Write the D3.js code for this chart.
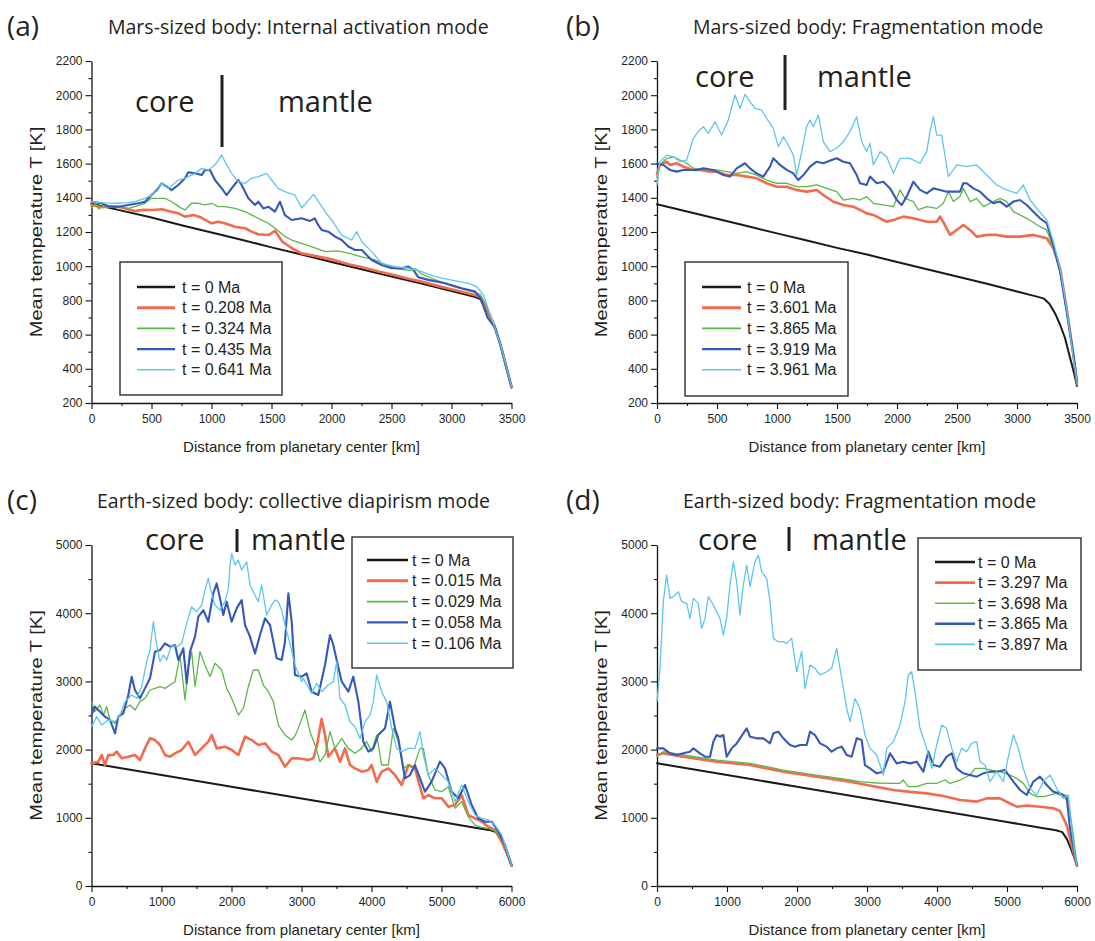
<!DOCTYPE html>
<html><head><meta charset="utf-8">
<script src="https://cdn.jsdelivr.net/npm/d3@7"></script>
<style>body{margin:0;background:#fff;} svg{display:block;}</style>
</head><body>
<svg id="chart" width="1095" height="941"></svg>
<script>
// ---------------- DATA ----------------
// Panel (a) Mars-sized body: Internal activation mode  [distance km, T K]
const A_labels = ["t = 0 Ma", "t = 0.208 Ma", "t = 0.324 Ma", "t = 0.435 Ma", "t = 0.641 Ma"];
const A_t0 = [[0,1365],[250,1325],[500,1285],[750,1240],[1000,1197],[1250,1155],[1500,1110],[1750,1068],[2000,1025],[2250,982],[2500,940],[2750,898],[3000,855],[3200,820],[3240,808],[3290,745],[3330,690],[3360,650],[3400,560],[3440,450],[3470,370],[3500,290]];
const A_t1 = [[0,1360],[84,1345],[150,1350],[223,1348],[300,1335],[362,1322],[430,1330],[501,1329],[590,1333],[640,1323],[720,1310],[779,1290],[850,1300],[918,1283],[1000,1251],[1057,1260],[1110,1251],[1196,1231],[1280,1222],[1334,1202],[1390,1187],[1473,1182],[1530,1206],[1590,1144],[1670,1105],[1751,1075],[1850,1062],[2000,1040],[2150,1010],[2250,995],[2400,968],[2500,952],[2650,925],[2750,910],[2900,882],[3000,865],[3100,848],[3200,830],[3240,818],[3290,755],[3340,680],[3400,560],[3450,430],[3500,295]];
const A_t2 = [[0,1340],[30,1370],[60,1335],[100,1360],[130,1345],[223,1348],[306,1338],[362,1348],[445,1368],[501,1397],[556,1397],[612,1397],[668,1377],[751,1338],[779,1329],[834,1368],[890,1368],[946,1358],[1001,1368],[1057,1348],[1112,1348],[1196,1338],[1279,1319],[1334,1300],[1390,1280],[1473,1251],[1529,1222],[1612,1173],[1668,1153],[1751,1134],[1850,1110],[1950,1085],[2050,1090],[2150,1075],[2250,1055],[2350,1040],[2450,1010],[2550,985],[2650,975],[2700,985],[2750,955],[2850,925],[3000,885],[3100,865],[3200,845],[3240,835],[3290,770],[3340,680],[3400,545],[3450,420],[3500,300]];
const A_t3 = [[0,1377],[84,1368],[150,1348],[223,1348],[306,1358],[390,1368],[445,1377],[501,1416],[543,1445],[584,1485],[626,1465],[668,1445],[723,1475],[779,1514],[807,1549],[862,1543],[918,1533],[946,1563],[987,1563],[1029,1504],[1085,1455],[1126,1416],[1168,1455],[1223,1504],[1251,1475],[1307,1397],[1362,1358],[1390,1377],[1432,1338],[1473,1348],[1529,1319],[1570,1377],[1612,1299],[1668,1270],[1751,1280],[1821,1265],[1860,1280],[1890,1240],[1918,1212],[1974,1202],[2030,1173],[2085,1153],[2140,1115],[2196,1095],[2252,1095],[2293,1065],[2335,1036],[2418,1007],[2502,988],[2585,988],[2640,998],[2680,980],[2724,935],[2807,920],[2946,900],[3085,871],[3196,852],[3240,815],[3300,700],[3363,640],[3418,520],[3500,296]];
const A_t4 = [[0,1377],[100,1370],[223,1368],[300,1372],[362,1377],[445,1397],[501,1416],[584,1485],[640,1455],[723,1504],[779,1514],[862,1543],[918,1572],[973,1563],[1029,1592],[1085,1650],[1112,1611],[1168,1543],[1223,1494],[1279,1485],[1334,1514],[1390,1524],[1459,1543],[1501,1504],[1556,1455],[1612,1436],[1695,1416],[1751,1340],[1790,1370],[1849,1420],[1890,1380],[1946,1319],[2002,1270],[2085,1182],[2168,1153],[2210,1202],[2252,1144],[2335,1085],[2418,1017],[2529,997],[2640,988],[2752,968],[2863,939],[3002,919],[3141,900],[3210,880],[3266,832],[3335,695],[3418,520],[3501,296]];

// Panel (b) Mars-sized body: Fragmentation mode
const B_labels = ["t = 0 Ma", "t = 3.601 Ma", "t = 3.865 Ma", "t = 3.919 Ma", "t = 3.961 Ma"];
const B_t0 = [[0,1362],[250,1320],[500,1278],[750,1235],[1000,1192],[1250,1150],[1500,1107],[1750,1068],[2000,1025],[2250,982],[2500,940],[2750,897],[3000,852],[3150,825],[3220,812],[3270,780],[3320,720],[3360,656],[3400,580],[3440,470],[3470,390],[3500,300]];
const B_t1 = [[0,1540],[25,1592],[81,1611],[108,1592],[164,1602],[219,1582],[303,1563],[358,1563],[442,1553],[497,1553],[581,1533],[664,1533],[747,1524],[831,1514],[914,1485],[997,1465],[1081,1465],[1164,1446],[1247,1436],[1331,1446],[1386,1416],[1470,1377],[1553,1358],[1636,1348],[1692,1329],[1747,1309],[1803,1300],[1859,1280],[1914,1260],[1970,1270],[2053,1290],[2136,1280],[2248,1260],[2331,1260],[2359,1290],[2400,1240],[2442,1183],[2498,1212],[2553,1241],[2609,1212],[2664,1173],[2748,1183],[2831,1183],[2914,1173],[3025,1173],[3136,1183],[3248,1163],[3303,1105],[3359,988],[3414,754],[3470,481],[3500,310]];
const B_t2 = [[0,1520],[25,1592],[81,1631],[136,1640],[192,1621],[247,1602],[303,1573],[386,1563],[497,1563],[581,1553],[664,1543],[747,1553],[831,1533],[914,1504],[997,1485],[1081,1485],[1164,1465],[1247,1465],[1331,1475],[1414,1455],[1497,1436],[1553,1387],[1636,1397],[1692,1387],[1747,1407],[1803,1368],[1886,1358],[1970,1348],[2025,1446],[2067,1397],[2136,1378],[2178,1329],[2248,1348],[2331,1338],[2386,1368],[2428,1436],[2470,1378],[2525,1407],[2553,1455],[2609,1378],[2664,1397],[2720,1348],[2803,1378],[2859,1397],[2914,1378],[2970,1319],[3081,1280],[3192,1231],[3248,1212],[3303,1105],[3359,968],[3414,754],[3470,481],[3500,310]];
const B_t3 = [[0,1600],[53,1592],[108,1563],[164,1553],[219,1563],[331,1563],[386,1572],[469,1563],[553,1533],[608,1524],[664,1572],[733,1602],[775,1572],[831,1543],[886,1524],[942,1582],[969,1631],[1025,1592],[1081,1563],[1136,1543],[1178,1504],[1220,1533],[1275,1582],[1331,1611],[1386,1602],[1456,1621],[1497,1631],[1553,1611],[1608,1602],[1664,1533],[1692,1485],[1747,1475],[1775,1524],[1831,1485],[1886,1494],[1942,1455],[1998,1387],[2039,1358],[2081,1407],[2136,1494],[2192,1446],[2248,1426],[2303,1455],[2359,1446],[2414,1436],[2470,1436],[2525,1436],[2553,1485],[2581,1485],[2636,1455],[2692,1436],[2748,1397],[2803,1368],[2859,1378],[2914,1348],[2970,1378],[3025,1387],[3081,1358],[3136,1319],[3192,1280],[3248,1251],[3303,1124],[3359,968],[3414,734],[3470,481],[3500,330]];
const B_t4 = [[0,1475],[25,1611],[81,1650],[136,1640],[192,1611],[247,1621],[303,1748],[344,1787],[386,1816],[428,1777],[483,1845],[539,1767],[594,1855],[650,2001],[692,1923],[733,2005],[775,1962],[817,1923],[872,1913],[914,1865],[969,1806],[1011,1699],[1053,1757],[1094,1709],[1136,1650],[1164,1533],[1206,1670],[1247,1816],[1275,1855],[1303,1816],[1345,1884],[1386,1728],[1442,1670],[1497,1690],[1553,1728],[1608,1787],[1664,1874],[1706,1728],[1747,1670],[1775,1719],[1803,1592],[1859,1670],[1914,1640],[1970,1543],[2025,1631],[2108,1631],[2192,1602],[2248,1670],[2275,1787],[2303,1874],[2331,1767],[2372,1767],[2428,1524],[2498,1592],[2581,1582],[2664,1592],[2748,1533],[2831,1475],[2914,1446],[2998,1426],[3053,1475],[3109,1387],[3164,1338],[3248,1270],[3303,1144],[3359,988],[3414,754],[3470,461],[3500,330]];

// Panel (c) Earth-sized body: collective diapirism mode
const C_labels = ["t = 0 Ma", "t = 0.015 Ma", "t = 0.029 Ma", "t = 0.058 Ma", "t = 0.106 Ma"];
const C_t0 = [[0,1800],[1000,1628],[2000,1455],[3000,1283],[4000,1110],[5000,938],[5500,852],[5700,818],[5780,790],[5850,680],[5920,520],[5970,380],[6000,300]];
const C_t1 = [[0,1798],[98,1823],[145,1921],[193,1774],[240,1921],[312,1921],[360,1970],[431,1872],[526,1896],[621,1921],[693,1847],[764,2018],[836,2165],[907,2140],[979,2067],[1050,1921],[1121,1896],[1193,1945],[1288,1994],[1383,2116],[1479,1921],[1574,2018],[1669,2116],[1717,2214],[1788,2018],[1907,2043],[2002,1994],[2098,1921],[2193,2189],[2288,2140],[2383,2067],[2479,2091],[2574,1970],[2669,1921],[2764,1749],[2860,1872],[2955,1872],[3097,1847],[3169,1872],[3217,2043],[3288,2450],[3336,2214],[3383,1896],[3478,2018],[3550,1823],[3621,2018],[3693,1774],[3764,1725],[3859,1676],[3955,1701],[4002,1774],[4074,1530],[4145,1676],[4240,1725],[4336,1627],[4431,1481],[4526,1774],[4621,1725],[4740,1286],[4812,1334],[4907,1286],[5002,1286],[5098,1163],[5193,1188],[5288,1334],[5383,1041],[5478,992],[5574,943],[5669,870],[5764,820],[5860,650],[5955,430],[6002,300]];
const C_t2 = [[0,2703],[48,2556],[122,2654],[169,2507],[217,2630],[264,2434],[336,2385],[407,2507],[479,2605],[550,2654],[621,2580],[693,2703],[764,2752],[836,2874],[907,2898],[979,2922],[1050,2898],[1121,2947],[1193,2996],[1264,3387],[1336,2727],[1383,3216],[1431,3436],[1479,2922],[1550,3436],[1621,3240],[1693,3069],[1764,3265],[1860,3167],[1931,2898],[2002,2752],[2098,2507],[2169,2605],[2240,2922],[2312,3167],[2383,3167],[2455,2947],[2526,2849],[2598,2703],[2669,2360],[2764,2214],[2860,2140],[2907,2200],[2955,2312],[3002,2450],[3050,2580],[3121,2263],[3193,2067],[3264,1823],[3336,1921],[3407,2263],[3478,2018],[3574,2165],[3669,2018],[3764,1945],[3859,2018],[3931,2116],[4002,1970],[4074,2214],[4145,1774],[4240,1774],[4312,2312],[4383,2116],[4455,1725],[4526,1774],[4597,1725],[4693,2018],[4740,2018],[4812,1627],[4907,1408],[5002,1383],[5098,1456],[5193,1139],[5288,1237],[5383,1017],[5478,894],[5574,860],[5669,846],[5764,805],[5860,700],[5955,450],[6002,300]];
const C_t3 = [[0,2507],[48,2630],[122,2556],[193,2483],[264,2434],[336,2238],[383,2483],[455,2532],[526,2801],[574,3069],[621,2870],[693,2752],[764,2898],[836,3045],[907,3436],[979,3460],[1050,3558],[1121,3509],[1193,3534],[1240,3314],[1312,3485],[1360,2971],[1407,3436],[1479,3656],[1526,3949],[1598,4046],[1669,3875],[1740,4291],[1788,4437],[1836,4218],[1883,3973],[1931,4169],[2002,3875],[2074,4071],[2145,4193],[2193,3827],[2264,3656],[2336,3411],[2407,3680],[2479,3924],[2550,3827],[2645,3338],[2717,3314],[2764,3582],[2812,4291],[2860,3875],[2907,3094],[3002,3069],[3074,3118],[3145,2849],[3240,2801],[3336,3240],[3407,3680],[3455,3534],[3502,3314],[3574,3000],[3669,2849],[3740,3069],[3812,2703],[3883,2116],[3955,1970],[4026,2018],[4097,2214],[4193,2312],[4264,2703],[4336,2312],[4383,2165],[4478,1578],[4550,1627],[4621,1774],[4693,1578],[4764,1383],[4859,1530],[4978,1823],[5050,1725],[5145,1383],[5240,1286],[5336,1481],[5431,1188],[5526,992],[5621,943],[5717,943],[5812,800],[5907,600],[6002,300]];
const C_t4 = [[0,2336],[74,2483],[145,2360],[240,2434],[336,2409],[407,2507],[479,2703],[574,2801],[645,2752],[717,2922],[788,3289],[836,3460],[883,3875],[931,3534],[979,3289],[1026,3387],[1074,3314],[1145,3534],[1217,3509],[1288,3558],[1360,3851],[1431,4095],[1502,4022],[1574,4120],[1621,4340],[1669,4511],[1717,4291],[1764,4120],[1836,4046],[1907,4169],[1955,4364],[1979,4706],[2002,4877],[2050,4706],[2098,4779],[2145,4633],[2217,4755],[2264,4413],[2312,4315],[2383,4169],[2431,4413],[2502,3973],[2574,4120],[2621,4193],[2669,4169],[2717,4046],[2764,3827],[2836,3558],[2907,3240],[3002,3000],[3026,3045],[3145,2825],[3217,2971],[3288,2849],[3383,2947],[3455,2996],[3502,3289],[3550,2752],[3621,2654],[3693,2409],[3764,2336],[3836,2165],[3907,2409],[3979,2507],[4026,2703],[4074,3094],[4145,2849],[4217,2703],[4288,2312],[4360,2018],[4431,1970],[4526,2018],[4621,2018],[4693,2263],[4740,1921],[4812,1627],[4907,1725],[5002,1627],[5098,1530],[5193,1237],[5288,1481],[5383,1237],[5478,1041],[5574,992],[5669,968],[5764,894],[5860,750],[5955,450],[6002,300]];

// Panel (d) Earth-sized body: Fragmentation mode
const D_labels = ["t = 0 Ma", "t = 3.297 Ma", "t = 3.698 Ma", "t = 3.865 Ma", "t = 3.897 Ma"];
const D_t0 = [[0,1800],[1000,1628],[2000,1455],[3000,1283],[4000,1110],[5000,938],[5500,852],[5700,818],[5790,790],[5860,680],[5920,530],[5970,390],[6000,300]];
const D_t1 = [[0,1921],[90,1945],[376,1896],[852,1823],[1329,1774],[1805,1676],[2281,1603],[2757,1530],[2995,1481],[3376,1408],[3614,1380],[3852,1358],[4090,1320],[4329,1261],[4567,1237],[4710,1285],[4900,1285],[5043,1210],[5138,1163],[5281,1180],[5471,1163],[5662,1139],[5757,1100],[5852,895],[5948,500],[6000,300]];
const D_t2 = [[0,1896],[90,1970],[376,1921],[852,1847],[1329,1798],[1805,1700],[2281,1627],[2757,1554],[2900,1530],[3138,1510],[3376,1505],[3471,1505],[3519,1554],[3590,1456],[3710,1456],[3852,1505],[3995,1505],[4114,1554],[4186,1505],[4329,1554],[4471,1627],[4543,1725],[4662,1725],[4757,1701],[4900,1676],[5043,1627],[5138,1578],[5233,1505],[5329,1358],[5424,1310],[5519,1310],[5614,1334],[5710,1358],[5805,1310],[5876,1237],[5948,750],[6000,300]];
const D_t3 = [[0,2018],[90,2018],[186,1945],[281,1921],[376,1945],[471,1970],[519,2018],[614,1945],[686,1896],[757,1896],[805,2116],[852,2214],[900,2189],[948,2214],[995,1896],[1067,2018],[1138,2091],[1186,2165],[1233,2238],[1281,2312],[1329,2189],[1424,2165],[1519,2165],[1614,2091],[1662,2238],[1733,2263],[1805,2165],[1900,2067],[1971,2043],[2043,2067],[2138,2067],[2186,2263],[2257,2214],[2329,2091],[2424,2043],[2495,1970],[2567,2018],[2638,2043],[2710,1921],[2781,1896],[2852,2165],[2924,2140],[2971,1774],[3043,1725],[3138,1652],[3233,1676],[3329,1945],[3424,1798],[3519,1823],[3614,1798],[3710,1823],[3805,1676],[3876,1970],[3948,1774],[4043,1750],[4138,1896],[4210,1945],[4281,1725],[4376,1652],[4471,1627],[4567,1603],[4662,1652],[4757,1676],[4852,1676],[4971,1701],[5091,1530],[5186,1408],[5281,1334],[5376,1530],[5471,1603],[5567,1481],[5662,1383],[5757,1358],[5852,1310],[5900,846],[5971,430],[6000,300]];
const D_t4 = [[0,2703],[43,3191],[90,4169],[138,4560],[186,4218],[233,4242],[305,4315],[352,4169],[424,4144],[471,3924],[519,4218],[590,4144],[638,3778],[686,3924],[733,4242],[805,4120],[900,3924],[948,3680],[995,3924],[1043,4413],[1090,4755],[1138,4462],[1186,3973],[1233,4413],[1281,4706],[1329,4389],[1400,4755],[1448,4853],[1495,4609],[1567,4511],[1614,4169],[1662,3631],[1733,3582],[1805,3582],[1852,3558],[1924,3631],[1995,3142],[2067,3436],[2114,2898],[2186,3240],[2257,3191],[2329,3094],[2424,3142],[2495,3191],[2567,3485],[2638,3045],[2710,2605],[2757,2409],[2828,2750],[2900,2600],[2971,2214],[3043,2018],[3138,1921],[3233,1627],[3281,2018],[3376,2116],[3471,2360],[3543,2703],[3590,3094],[3638,3142],[3686,2849],[3757,2312],[3852,2018],[3924,1725],[3995,2067],[4067,2360],[4138,2312],[4210,2018],[4281,1823],[4352,2018],[4424,1970],[4495,2091],[4567,2116],[4614,1823],[4686,1774],[4757,1530],[4852,1676],[4948,1530],[5019,1896],[5091,2214],[5162,2018],[5233,1725],[5329,1432],[5424,1334],[5519,1530],[5614,1627],[5710,1432],[5805,1286],[5876,1334],[5924,846],[5971,450],[6000,300]];

const marsXTicks = [0,500,1000,1500,2000,2500,3000,3500];
const marsYTicks = [200,400,600,800,1000,1200,1400,1600,1800,2000,2200];
const earthXTicks = [0,1000,2000,3000,4000,5000,6000];
const earthYTicks = [0,1000,2000,3000,4000,5000];

// ---------------- STYLE / LAYOUT ----------------
const seriesColors = ["#1a1a1a", "#f26b4c", "#5cb748", "#3658b8", "#5ec6ec"];
const seriesWidths = [2, 2.6, 1.3, 2.1, 1.3];
const txt = "#231f20";

const panels = [
  {letter:"(a)", title:"Mars-sized body: Internal activation mode", series:[A_t0,A_t1,A_t2,A_t3,A_t4], labels:A_labels,
   xDom:[0,3500], yDom:[200,2200], xTicks:marsXTicks, yTicks:marsYTicks, xMinorStep:250, yMinorStep:100,
   L:91.5, R:511.5, T:61, B:403, letterX:7, letterY:36, titleX:108, titleY:34,
   coreX:135, textY:112, sepX:222, sepY1:75, sepY2:147, mantleX:278,
   leg:{x:120,y:262,w:162,h:133,row0:287,dy:20.7,l1:137,l2:175,tx:182}},
  {letter:"(b)", title:"Mars-sized body: Fragmentation mode", series:[B_t0,B_t1,B_t2,B_t3,B_t4], labels:B_labels,
   xDom:[0,3500], yDom:[200,2200], xTicks:marsXTicks, yTicks:marsYTicks, xMinorStep:250, yMinorStep:100,
   L:657, R:1077, T:61, B:403, letterX:566, letterY:36, titleX:693, titleY:34,
   coreX:695, textY:87, sepX:785, sepY1:55, sepY2:110, mantleX:817,
   leg:{x:685,y:262,w:163,h:134,row0:287,dy:20.7,l1:702,l2:741,tx:747}},
  {letter:"(c)", title:"Earth-sized body: collective diapirism mode", series:[C_t0,C_t1,C_t2,C_t3,C_t4], labels:C_labels,
   xDom:[0,6000], yDom:[0,5000], xTicks:earthXTicks, yTicks:earthYTicks, xMinorStep:500, yMinorStep:500,
   L:91.5, R:511.5, T:545, B:886, letterX:7, letterY:510, titleX:97, titleY:508,
   coreX:145, textY:550, sepX:237, sepY1:529, sepY2:552, mantleX:251,
   leg:{x:352,y:537,w:161,h:131,row0:560,dy:20.8,l1:367,l2:408,tx:412}},
  {letter:"(d)", title:"Earth-sized body: Fragmentation mode", series:[D_t0,D_t1,D_t2,D_t3,D_t4], labels:D_labels,
   xDom:[0,6000], yDom:[0,5000], xTicks:earthXTicks, yTicks:earthYTicks, xMinorStep:500, yMinorStep:500,
   L:657, R:1077, T:545, B:886, letterX:566, letterY:510, titleX:683, titleY:508,
   coreX:698, textY:550, sepX:789, sepY1:527, sepY2:551, mantleX:812,
   leg:{x:918,y:538,w:163,h:132,row0:562,dy:20.6,l1:935,l2:975,tx:978}}
];

const svg = d3.select("#chart");
svg.append("rect").attr("width",1095).attr("height",941).attr("fill","#fff");

panels.forEach(p => {
  const g = svg.append("g");
  const x = d3.scaleLinear().domain(p.xDom).range([p.L, p.R]);
  const y = d3.scaleLinear().domain(p.yDom).range([p.B, p.T]);

  // panel letter + title
  g.append("text").attr("x",p.letterX).attr("y",p.letterY).text(p.letter)
    .attr("font-family","Open Sans").attr("font-size",28).attr("fill",txt);
  g.append("text").attr("x",p.titleX).attr("y",p.titleY).text(p.title)
    .attr("font-family","Open Sans").attr("font-size",19.5).attr("fill",txt);

  // minor ticks
  const xMinor = d3.range(p.xDom[0], p.xDom[1]+1, p.xMinorStep).filter(v => !p.xTicks.includes(v));
  const yMinor = d3.range(p.yDom[0], p.yDom[1]+1, p.yMinorStep).filter(v => !p.yTicks.includes(v));

  // x axis
  const xa = g.append("g").attr("transform",`translate(0,${p.B})`)
    .call(d3.axisBottom(x).tickValues(p.xTicks).tickSize(6).tickSizeOuter(0).tickFormat(d3.format("d")));
  xa.append("g").call(d3.axisBottom(x).tickValues(xMinor).tickSize(3).tickFormat("")).select(".domain").remove();
  // y axis
  const ya = g.append("g").attr("transform",`translate(${p.L},0)`)
    .call(d3.axisLeft(y).tickValues(p.yTicks).tickSize(6).tickSizeOuter(0).tickFormat(d3.format("d")));
  ya.append("g").call(d3.axisLeft(y).tickValues(yMinor).tickSize(3).tickFormat("")).select(".domain").remove();

  [xa, ya].forEach(a => {
    a.selectAll(".domain").attr("stroke","#111").attr("stroke-width",1.3);
    a.selectAll(".tick line").attr("stroke","#111").attr("stroke-width",1.1);
    a.selectAll(".tick text").attr("font-family","Liberation Sans, Arial, sans-serif")
      .attr("font-size",12).attr("fill",txt);
  });
  xa.selectAll(".tick text").attr("y",11);
  ya.selectAll(".tick text").attr("x",-9);

  // axis titles
  g.append("text").attr("x",(p.L+p.R)/2).attr("y",p.B+49).attr("text-anchor","middle")
    .attr("font-family","Liberation Sans, Arial, sans-serif").attr("font-size",15).attr("fill",txt)
    .text("Distance from planetary center [km]");
  g.append("text").attr("transform",`translate(${p.L-50},${(p.T+p.B)/2}) rotate(-90) scale(1.25,1)`).attr("text-anchor","middle")
    .attr("font-family","Liberation Sans, Arial, sans-serif").attr("font-size",16).attr("fill",txt)
    .text("Mean temperature T [K]");

  // lines
  const line = d3.line().x(d => x(d[0])).y(d => y(d[1]));
  p.series.forEach((s,i) => {
    g.append("path").datum(s).attr("d",line).attr("fill","none")
      .attr("stroke",seriesColors[i]).attr("stroke-width",seriesWidths[i])
      .attr("stroke-linejoin","round").attr("stroke-linecap","round");
  });

  // core | mantle
  g.append("text").attr("x",p.coreX).attr("y",p.textY).text("core")
    .attr("font-family","Open Sans").attr("font-size",29).attr("fill",txt);
  g.append("line").attr("x1",p.sepX).attr("x2",p.sepX).attr("y1",p.sepY1).attr("y2",p.sepY2)
    .attr("stroke",txt).attr("stroke-width",3);
  g.append("text").attr("x",p.mantleX).attr("y",p.textY).text("mantle")
    .attr("font-family","Open Sans").attr("font-size",29).attr("fill",txt);

  // legend
  const lg = p.leg;
  g.append("rect").attr("x",lg.x).attr("y",lg.y).attr("width",lg.w).attr("height",lg.h)
    .attr("fill","#fff").attr("stroke","#3a3a3a").attr("stroke-width",1.5);
  p.labels.forEach((lab,i) => {
    const yy = lg.row0 + i*lg.dy;
    g.append("line").attr("x1",lg.l1).attr("x2",lg.l2).attr("y1",yy).attr("y2",yy)
      .attr("stroke",seriesColors[i]).attr("stroke-width",seriesWidths[i]+0.3);
    g.append("text").attr("x",lg.tx).attr("y",yy+5.5).text(lab)
      .attr("font-family","Liberation Sans, Arial, sans-serif").attr("font-size",16).attr("fill",txt);
  });
});
</script>
</body></html>
